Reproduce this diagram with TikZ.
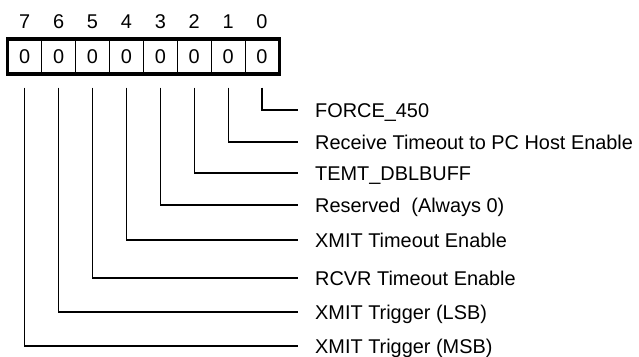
\documentclass[tikz,border=0pt]{standalone}
\usepackage{fontspec}
\setmainfont{Liberation Sans}
\usetikzlibrary{fit}

\tikzset{
  cell/.style={draw, line width=1pt, minimum width=33.9pt, minimum height=34pt, inner sep=0pt},
  bitnum/.style={inner sep=0pt},
  lbl/.style={anchor=west, inner sep=0pt, text height=14pt, text depth=0pt},
  wire/.style={line width=1.2pt}
}

\begin{document}
\begin{tikzpicture}[x=1pt, y=-1pt, font=\fontsize{19.9}{22}\selectfont]
      \useasboundingbox (0,0) rectangle (639,356);

      % Register cells and bit numbers
      \foreach \b in {0,...,7} {
        \node[cell] (c\b) at ({262-33.9*\b},56.5) {0};
        \node[bitnum] (b\b) at ({262-33.9*\b},22) {\b};
      }
      \node[fit=(c7)(c0), draw, line width=3.5pt, inner sep=0pt] (reg) {};

      % Field names
      \foreach \b/\y/\txt in {0/110/FORCE\_450,
                             1/142/Receive Timeout to PC Host Enable,
                             2/173/TEMT\_DBLBUFF,
                             3/205/Reserved\ \ (Always 0),
                             4/240/XMIT Timeout Enable,
                             5/278/RCVR Timeout Enable,
                             6/312/XMIT Trigger (LSB),
                             7/346/XMIT Trigger (MSB)} {
        \node[lbl] (l\b) at (315,\y) {\txt};
        \draw[wire] ([yshift=-13.5pt]c\b.south) |- ([xshift=-17pt]l\b.west);
      }
    \end{tikzpicture}
\end{document}
